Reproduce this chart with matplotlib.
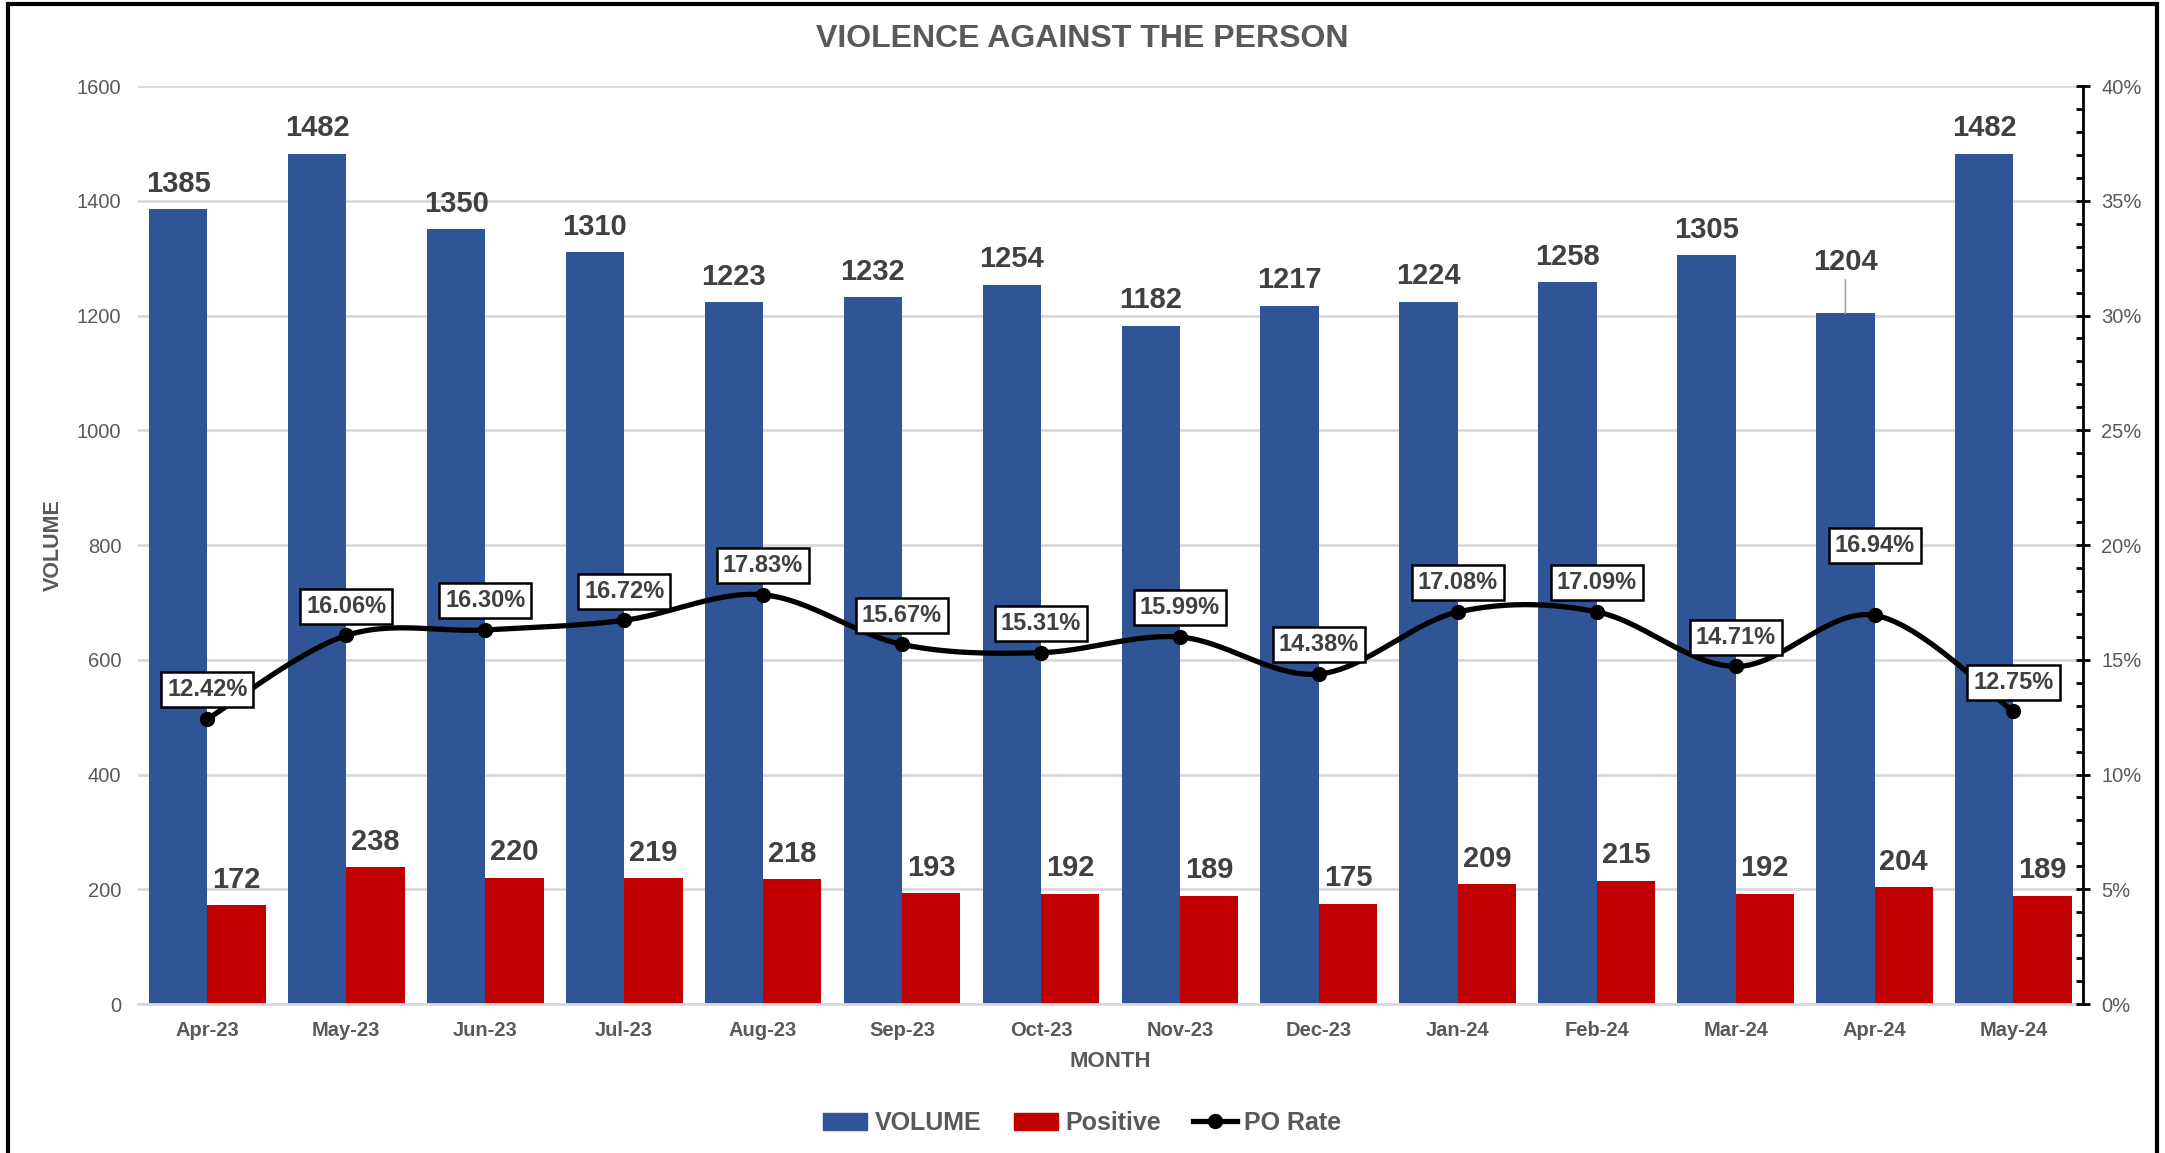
import matplotlib
matplotlib.use("Agg")
import matplotlib.pyplot as plt
import numpy as np
from matplotlib.patches import Rectangle
from matplotlib.lines import Line2D
from matplotlib.ticker import MultipleLocator, FuncFormatter

months = ["Apr-23", "May-23", "Jun-23", "Jul-23", "Aug-23", "Sep-23", "Oct-23",
          "Nov-23", "Dec-23", "Jan-24", "Feb-24", "Mar-24", "Apr-24", "May-24"]
volume = [1385, 1482, 1350, 1310, 1223, 1232, 1254, 1182, 1217, 1224, 1258, 1305, 1204, 1482]
positive = [172, 238, 220, 219, 218, 193, 192, 189, 175, 209, 215, 192, 204, 189]
po_rate = [12.42, 16.06, 16.30, 16.72, 17.83, 15.67, 15.31, 15.99, 14.38, 17.08, 17.09, 14.71, 16.94, 12.75]

plt.rcParams['font.family'] = ['Liberation Sans', 'DejaVu Sans']
BLUE = '#2F5597'
RED = '#C00000'
GRAY = '#595959'
DARK = '#404040'

fig = plt.figure(figsize=(21.65, 11.53), dpi=100)
ax = fig.add_axes([0.0637, 0.1292, 0.9621 - 0.0637, 0.9254 - 0.1292])
ax2 = ax.twinx()

x = np.arange(len(months))
w = 0.42
ax.bar(x - w / 2, volume, w, color=BLUE, zorder=2)
ax.bar(x + w / 2, positive, w, color=RED, zorder=2)

ax.set_xlim(-0.5, len(months) - 0.5)
ax.set_ylim(0, 1600)
ax.yaxis.set_major_locator(MultipleLocator(200))
ax.grid(axis='y', color='#D9D9D9', linewidth=2, zorder=0)
ax.set_axisbelow(True)
for s in ['top', 'right', 'left']:
    ax.spines[s].set_visible(False)
ax.spines['bottom'].set_color('#D9D9D9')
ax.spines['bottom'].set_linewidth(2)
ax.tick_params(axis='y', length=0, labelsize=14.5, labelcolor=GRAY, pad=12)
ax.tick_params(axis='x', length=0, labelsize=14.5, labelcolor=GRAY, pad=12)
ax.set_xticks(x)
ax.set_xticklabels(months, fontweight='bold')
ax.set_xlabel('MONTH', fontsize=16, fontweight='bold', color=GRAY, labelpad=8)
ax.set_ylabel('VOLUME', fontsize=15.5, fontweight='bold', color=GRAY, labelpad=9)

# bar labels
for i, v in enumerate(volume):
    off = 37 if i == 12 else 18.3
    ax.annotate(str(v), xy=(x[i] - w / 2, v), xytext=(0, off), textcoords='offset points',
                ha='center', va='center', fontsize=21, fontweight='bold', color=DARK,
                zorder=5)
    if i == 12:
        ax.annotate('', xy=(x[i] - w / 2, v), xytext=(0, 24), textcoords='offset points',
                    arrowprops=dict(arrowstyle='-', color='#A6A6A6', lw=1.2,
                                    shrinkA=0, shrinkB=0), zorder=5)
for i, v in enumerate(positive):
    ax.annotate(str(v), xy=(x[i] + w / 2, v), xytext=(0, 18.3), textcoords='offset points',
                ha='center', va='center', fontsize=21, fontweight='bold', color=DARK, zorder=5)

# smooth line (Bezier/Catmull-Rom through the data points)
px = x.astype(float)
py = np.array(po_rate, dtype=float)
P = np.column_stack([px, py])
Pext = np.vstack([P[0], P, P[-1]])
curve = []
t = np.linspace(0, 1, 30)
for k in range(1, len(Pext) - 2):
    p0, p1, p2, p3 = Pext[k - 1], Pext[k], Pext[k + 1], Pext[k + 2]
    c1 = p1 + (p2 - p0) / 6
    c2 = p2 - (p3 - p1) / 6
    seg = ((1 - t) ** 3)[:, None] * p1 + (3 * (1 - t) ** 2 * t)[:, None] * c1 + \
          (3 * (1 - t) * t ** 2)[:, None] * c2 + (t ** 3)[:, None] * p2
    curve.append(seg)
curve = np.vstack(curve)
ax2.plot(curve[:, 0], curve[:, 1], color='black', lw=3.8, zorder=3, solid_capstyle='round')
ax2.plot(px, py, 'o', color='black', markersize=10, zorder=4)

ax2.set_ylim(0, 40)
ax2.yaxis.set_major_locator(MultipleLocator(5))
ax2.yaxis.set_minor_locator(MultipleLocator(1))
ax2.yaxis.set_major_formatter(FuncFormatter(lambda v, p: f"{int(v)}%"))
for s in ['top', 'left', 'bottom']:
    ax2.spines[s].set_visible(False)
ax2.spines['right'].set_color('black')
ax2.spines['right'].set_linewidth(2)
ax2.tick_params(axis='y', which='major', direction='inout', length=10, width=2,
                labelsize=14.5, labelcolor=GRAY, pad=8)
ax2.tick_params(axis='y', which='minor', direction='in', length=5, width=2)

for i, v in enumerate(po_rate):
    off = 50 if i == 12 else 21
    ax2.annotate(f"{v:.2f}%", xy=(x[i], v), xytext=(0, off), textcoords='offset points',
                 ha='center', va='center', fontsize=17, fontweight='bold', color=DARK,
                 bbox=dict(boxstyle='square,pad=0.25', fc='white', ec='black', lw=1.8),
                 zorder=6)

fig.text(0.5, 0.966, 'VIOLENCE AGAINST THE PERSON', ha='center', va='center',
         fontsize=23, fontweight='bold', color=GRAY)

handles = [Rectangle((0, 0), 1, 1, color=BLUE), Rectangle((0, 0), 1, 1, color=RED),
           Line2D([0], [0], color='black', lw=3.8, marker='o', markersize=10)]
leg = fig.legend(handles, ['VOLUME', 'Positive', 'PO Rate'], loc='center',
                 bbox_to_anchor=(0.5, 0.026), ncol=3, frameon=False,
                 prop={'size': 18, 'weight': 'bold'}, handlelength=1.75,
                 handletextpad=0.3, columnspacing=1.3)
for txt in leg.get_texts():
    txt.set_color(GRAY)

fig.patches.append(Rectangle((8 / 2165, -0.02), (2157 - 8) / 2165, 1.02 - 4 / 1153,
                             transform=fig.transFigure, fill=False, ec='black', lw=3))

fig.savefig('out.png', dpi=100)
